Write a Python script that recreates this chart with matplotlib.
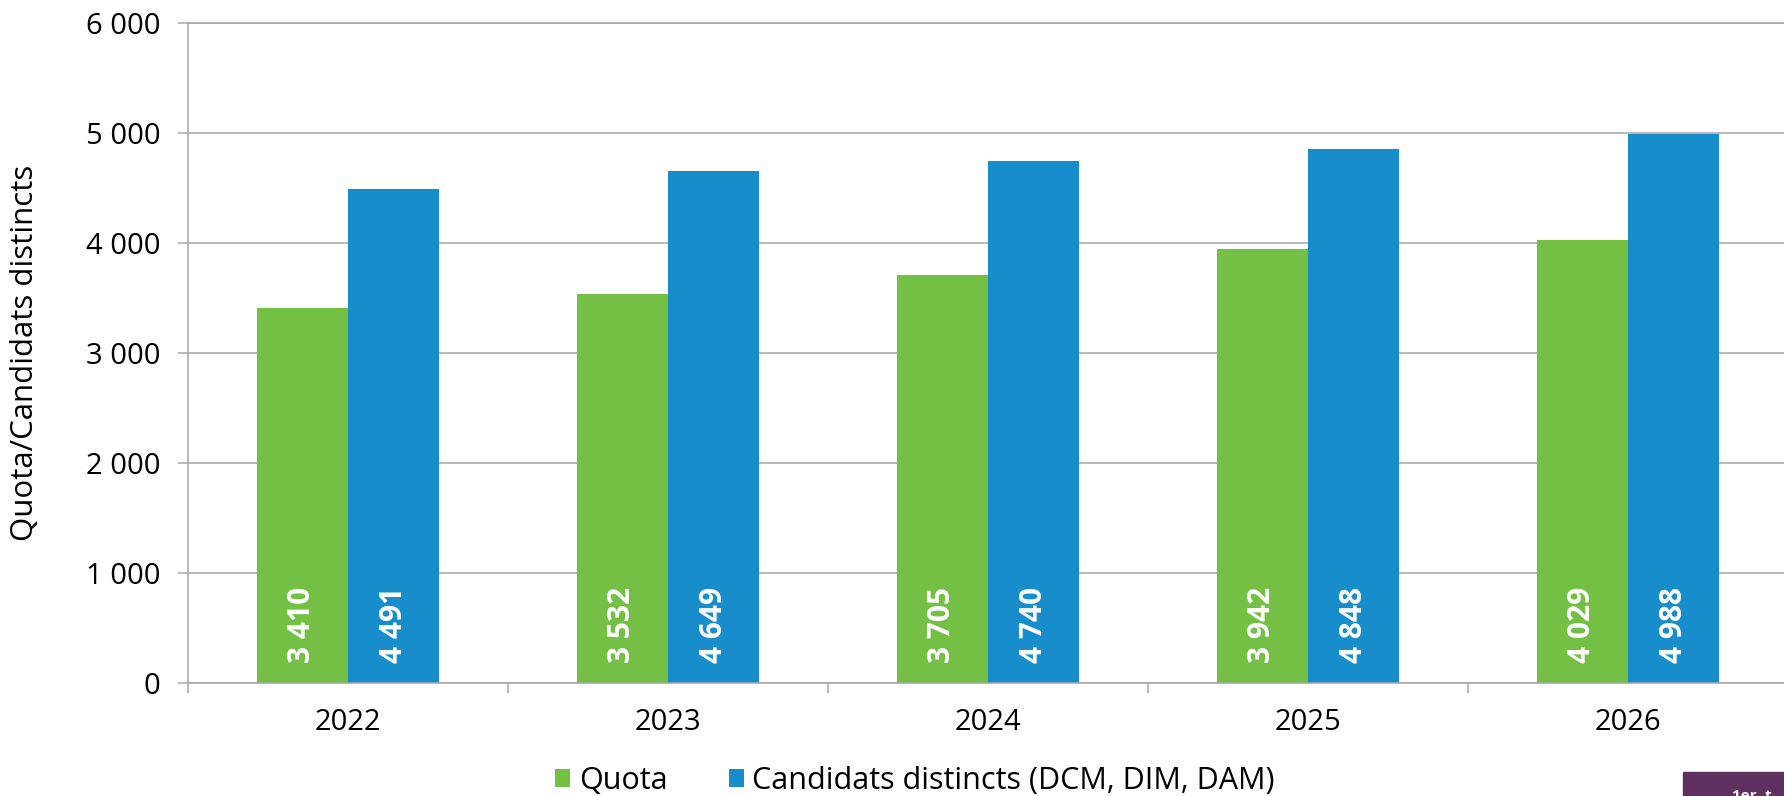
import matplotlib
matplotlib.use("Agg")
import matplotlib.pyplot as plt
from matplotlib.patches import Rectangle
import numpy as np

plt.rcParams['font.family'] = ['Open Sans', 'DejaVu Sans']

years = ['2022', '2023', '2024', '2025', '2026']
quota = [3410, 3532, 3705, 3942, 4029]
candidats = [4491, 4649, 4740, 4848, 4988]
series_names = ['Quota', 'Candidats distincts (DCM, DIM, DAM)']
yticks = [0, 1000, 2000, 3000, 4000, 5000, 6000]


def fmt(v):
    return f"{v:,}".replace(',', ' ')


green = '#74C044'
blue = '#188DCB'
grey = '#A6A6A6'

fig = plt.figure(figsize=(17.84, 7.96), dpi=100)
ax = fig.add_axes([188 / 1784, 1 - 682.7 / 796, 1600 / 1784, 660 / 796])

x = np.arange(len(years))
w = 0.285
b1 = ax.bar(x - w / 2, quota, w, color=green, label=series_names[0], zorder=2)
b2 = ax.bar(x + w / 2, candidats, w, color=blue, label=series_names[1], zorder=2)

for bars, vals in ((b1, quota), (b2, candidats)):
    for r, v in zip(bars, vals):
        ax.annotate(fmt(v), (r.get_x() + r.get_width() / 2, 0),
                    xytext=(0, 14), textcoords='offset points',
                    rotation=90, ha='center', va='bottom',
                    color='white', fontsize=21.5, fontweight='bold', zorder=3)

ax.set_xlim(-0.5, len(years) - 0.5)
ax.set_ylim(0, 6000)
ax.set_yticks(yticks)
ax.set_yticklabels([fmt(v) for v in yticks])
ax.yaxis.grid(True, color=grey, linewidth=1.1, zorder=0)

ax.set_xticks(np.arange(-0.5, len(years)), [''] * (len(years) + 1))
ax.set_xticks(x, years, minor=True)
ax.tick_params(axis='x', which='major', length=7, width=1.1, color=grey)
ax.tick_params(axis='x', which='minor', length=0, pad=18, labelsize=21)
ax.tick_params(axis='y', length=7, width=1.1, color=grey, pad=13, labelsize=21)

ax.spines['right'].set_visible(False)
for s in ('left', 'bottom', 'top'):
    ax.spines[s].set_color(grey)
    ax.spines[s].set_linewidth(1.1)

fig.text(25 / 1784, 1 - 352.7 / 796, 'Quota/Candidats distincts',
         rotation=90, ha='center', va='center', fontsize=22.5)

fig.legend(handles=[b1, b2], labels=series_names, loc='center',
           bbox_to_anchor=(915 / 1784, 1 - 781 / 796), ncol=2, frameon=False,
           fontsize=22, handlelength=0.5, handleheight=0.5,
           handletextpad=0.28, columnspacing=2.0, borderaxespad=0)

# purple corner box cut by the image edge
fig.add_artist(Rectangle((1683 / 1784, 0), 0.1, 24 / 796,
                         transform=fig.transFigure, color='#5E2F5F'))
fig.text(1732 / 1784, 1 - 789 / 796, '1er. t', color='white', fontsize=11,
         fontweight='bold', ha='left', va='top')

fig.savefig('out.png', dpi=100)
